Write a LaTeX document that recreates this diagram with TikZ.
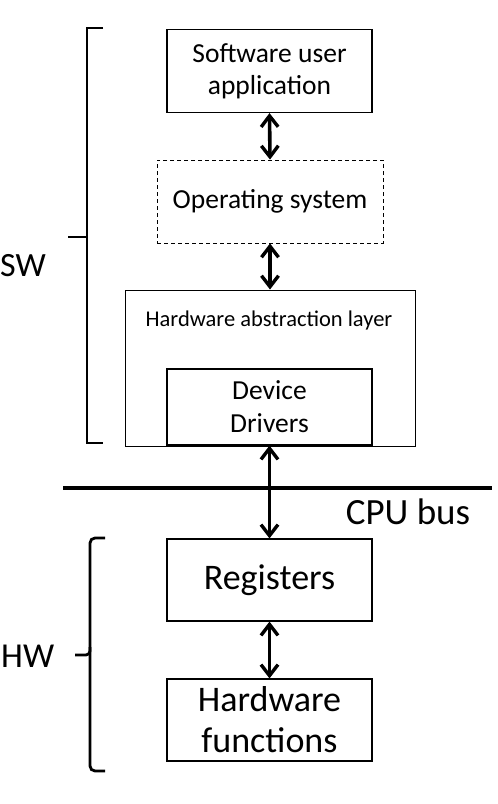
\documentclass[tikz,border=0pt]{standalone}
\usepackage{fontspec}
\setmainfont{Carlito}
\usetikzlibrary{arrows.meta}
\begin{document}
\begin{tikzpicture}[x=1pt,y=-1pt,
  box/.style={draw,line width=1.2pt,inner sep=0pt,align=center},
  conn/.style={line width=3.6pt,{Straight Barb[length=11pt,width=17pt,line width=3.4pt]}-{Straight Barb[length=11pt,width=17pt,line width=3.4pt]}},
  brk/.style={line width=2.8pt,line cap=butt},
  lbl/.style={inner sep=0pt}]
\useasboundingbox (0,0) rectangle (498,804);
% boxes
\node[box,minimum width=205pt,minimum height=83pt,font=\fontsize{27.5}{32}\selectfont] (sua) at (269.5,71) {Software user\\application};
\node[box,dashed,line width=0.9pt,dash pattern=on 4pt off 3pt,minimum width=226pt,minimum height=83pt,font=\fontsize{27.5}{32}\selectfont] (os) at (270,201.5) {Operating system};
\node[box,line width=1pt,minimum width=290pt,minimum height=156pt] (hal) at (270,368) {};
\node[lbl,font=\fontsize{22.5}{26}\selectfont] (halt) at (269,320) {Hardware abstraction layer};
\node[box,minimum width=205pt,minimum height=76pt,font=\fontsize{27.5}{33}\selectfont] (dd) at (269.5,407) {Device\\Drivers};
\node[box,minimum width=205pt,minimum height=82pt,font=\fontsize{36}{40}\selectfont] (reg) at (269.5,580) {Registers};
\node[box,minimum width=205pt,minimum height=82pt,font=\fontsize{36}{41}\selectfont] (hwf) at (269.5,720) {Hardware\\functions};
% bus
\coordinate (busl) at (63,488);
\coordinate (busr) at (492,488);
\draw[line width=3.4pt] (busl) -- (busr);
\node[lbl,font=\fontsize{37}{40}\selectfont] (bus) at (408,512) {CPU bus};
% connectors
\draw[conn] (sua.south) -- (os.north);
\draw[conn] (os.south) -- (os.south |- hal.north);
\draw[conn] (dd.south) -- (reg.north);
\draw[conn] (reg.south) -- (hwf.north);
% SW bracket
\coordinate (swt) at (103,28);
\coordinate (swtc) at (87,28);
\coordinate (swm) at (87,237);
\coordinate (swmo) at (68,237);
\coordinate (swbc) at (87,443);
\coordinate (swb) at (103,443);
\draw[brk] (swt) -- (swtc) -- (swbc) -- (swb);
\draw[brk] (swm) -- (swmo);
\node[lbl,anchor=west,font=\fontsize{34}{38}\selectfont] (sw) at (0,266) {SW};
% HW bracket
\coordinate (hwt) at (105,538);
\coordinate (hwtc) at (90,538);
\coordinate (hwm) at (90,655);
\coordinate (hwmo) at (75,655);
\coordinate (hwbc) at (90,771);
\coordinate (hwb) at (105,771);
\draw[brk,rounded corners=5pt] (hwt) -- (hwtc) -- (hwbc) -- (hwb);
\draw[brk,rounded corners=4pt] (hwmo) -- (hwm) -- ++(0,-8);
\draw[brk,rounded corners=4pt] (hwm) -- ++(0,8);
\node[lbl,anchor=west,font=\fontsize{35}{38}\selectfont] (hw) at (1,656) {HW};
\end{tikzpicture}
\end{document}
